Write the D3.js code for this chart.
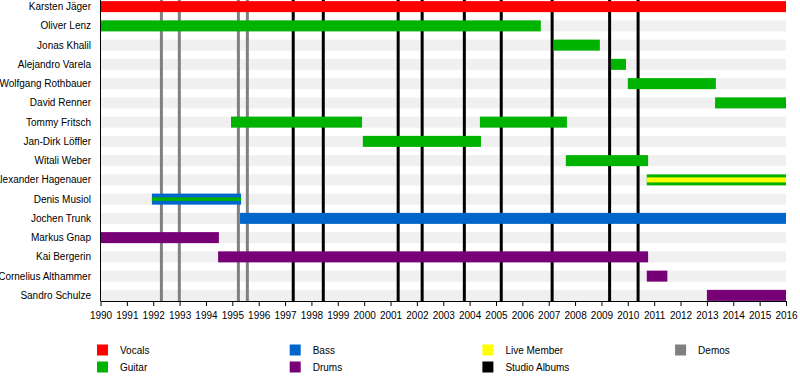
<!DOCTYPE html>
<html lang="en">
<head>
  <meta charset="utf-8">
  <script src="https://d3js.org/d3.v7.min.js"></script>
  <style>
    body { margin: 0; background: #fff; }
    text { font-family: "Liberation Sans", Arial, sans-serif; }
  </style>
</head>
<body>
  <script>
    // band members, top to bottom
    var members = ["Karsten Jäger", "Oliver Lenz", "Jonas Khalil", "Alejandro Varela",
      "Wolfgang Rothbauer", "David Renner", "Tommy Fritsch", "Jan-Dirk Löffler",
      "Witali Weber", "Alexander Hagenauer", "Denis Musiol", "Jochen Trunk",
      "Markus Gnap", "Kai Bergerin", "Cornelius Althammer", "Sandro Schulze"];

    // main periods: member, role, start, end
    var stints = [
      ["Karsten Jäger", "vocals", 1990, 2016],
      ["Oliver Lenz", "guitar", 1990, 2006.70],
      ["Jonas Khalil", "guitar", 2007.20, 2008.94],
      ["Alejandro Varela", "guitar", 2009.36, 2009.93],
      ["Wolfgang Rothbauer", "guitar", 2010.00, 2013.34],
      ["David Renner", "guitar", 2013.31, 2016],
      ["Tommy Fritsch", "guitar", 1994.95, 1999.92],
      ["Tommy Fritsch", "guitar", 2004.39, 2007.69],
      ["Jan-Dirk Löffler", "guitar", 1999.95, 2004.43],
      ["Witali Weber", "guitar", 2007.65, 2010.77],
      ["Alexander Hagenauer", "guitar", 2010.72, 2016],
      ["Denis Musiol", "bass", 1991.95, 1995.33],
      ["Jochen Trunk", "bass", 1995.29, 2016],
      ["Markus Gnap", "drums", 1990, 1994.49],
      ["Kai Bergerin", "drums", 1994.46, 2010.77],
      ["Cornelius Althammer", "drums", 2010.72, 2011.50],
      ["Sandro Schulze", "drums", 2013.00, 2016]
    ];

    // thin overlays on top of main periods
    var overlays = [
      ["Alexander Hagenauer", "live", 2010.72, 2016],
      ["Denis Musiol", "guitar", 1991.95, 1995.33]
    ];

    var demos = [1992.31, 1992.99, 1995.23, 1995.57];
    var albums = [1997.31, 1998.45, 2001.29, 2002.20, 2003.80, 2005.20, 2007.13, 2009.31, 2010.39];

    var years = [1990, 1991, 1992, 1993, 1994, 1995, 1996, 1997, 1998, 1999, 2000,
      2001, 2002, 2003, 2004, 2005, 2006, 2007, 2008, 2009, 2010, 2011, 2012,
      2013, 2014, 2015, 2016];

    var legendKeys = ["vocals", "guitar", "bass", "drums", "live", "albums", "demos"];
    var legendLabels = ["Vocals", "Guitar", "Bass", "Drums", "Live Member", "Studio Albums", "Demos"];

    var colors = {
      vocals: "#ff0000",
      guitar: "#00b300",
      bass: "#0066cc",
      drums: "#770077",
      live: "#ffff00",
      albums: "#000000",
      demos: "#808080"
    };

    var dim = {
      width: 800,
      height: 390,
      left: 100.5,
      right: 786,
      axisY: 301,
      barH: 11
    };

    var svg = d3.select("body")
      .append("svg")
      .attr("width", dim.width)
      .attr("height", dim.height);

    var x = d3.scaleLinear()
      .domain([1990, 2016])
      .range([dim.left, dim.right]);

    var y = d3.scaleBand()
      .domain(members)
      .range([-3, 305]);

    function rowY(name, h) {
      return y(name) + y.bandwidth() / 2 - h / 2;
    }

    // light background bar for every member
    svg.append("g")
      .selectAll("rect")
      .data(members)
      .join("rect")
      .attr("x", x(1990))
      .attr("width", x(2016) - x(1990))
      .attr("y", d => rowY(d, dim.barH))
      .attr("height", dim.barH)
      .attr("fill", "#f0f0f0");

    // demo and album markers
    var markers = demos.map(d => ["demos", d]).concat(albums.map(d => ["albums", d]));
    svg.append("g")
      .selectAll("line")
      .data(markers)
      .join("line")
      .attr("x1", d => x(d[1]))
      .attr("x2", d => x(d[1]))
      .attr("y1", 0)
      .attr("y2", dim.axisY)
      .attr("stroke", d => colors[d[0]])
      .attr("stroke-width", 3);

    // member bars
    svg.append("g")
      .selectAll("rect")
      .data(stints)
      .join("rect")
      .attr("x", d => x(d[2]))
      .attr("width", d => x(d[3]) - x(d[2]))
      .attr("y", d => rowY(d[0], dim.barH))
      .attr("height", dim.barH)
      .attr("fill", d => colors[d[1]]);

    svg.append("g")
      .selectAll("rect")
      .data(overlays)
      .join("rect")
      .attr("x", d => x(d[2]))
      .attr("width", d => x(d[3]) - x(d[2]))
      .attr("y", d => rowY(d[0], d[1] === "live" ? 5 : 3.5))
      .attr("height", d => d[1] === "live" ? 5 : 3.5)
      .attr("fill", d => colors[d[1]]);

    // member names
    svg.append("g")
      .selectAll("text")
      .data(members)
      .join("text")
      .attr("x", 91)
      .attr("y", d => y(d) + y.bandwidth() / 2)
      .attr("dy", "0.35em")
      .attr("text-anchor", "end")
      .style("font-size", "10px")
      .attr("fill", "#000")
      .text(d => d);

    // x axis
    var xAxis = d3.axisBottom(x)
      .tickValues(years)
      .tickFormat(d3.format("d"))
      .tickSize(5)
      .tickSizeOuter(0)
      .tickPadding(6);

    svg.append("g")
      .attr("transform", "translate(0," + dim.axisY + ")")
      .call(xAxis)
      .call(g => g.selectAll("text").style("font-size", "10px").attr("fill", "#000")
        .style("font-family", "'Liberation Sans', Arial, sans-serif"))
      .call(g => g.selectAll("line, path").attr("stroke", "#000"));

    // left edge line
    svg.append("line")
      .attr("x1", dim.left)
      .attr("x2", dim.left)
      .attr("y1", 0)
      .attr("y2", dim.axisY)
      .attr("stroke", "#000");

    // legend
    var legend = svg.append("g")
      .selectAll("g")
      .data(legendKeys)
      .join("g")
      .attr("transform", function(d, i) {
        var col = Math.floor(i / 2);
        var row = i % 2;
        return "translate(" + (97 + col * 192.7) + "," + (344.5 + row * 17) + ")";
      });

    legend.append("rect")
      .attr("width", 11)
      .attr("height", 11)
      .attr("fill", d => colors[d]);

    legend.append("text")
      .attr("x", 23)
      .attr("y", 5.5)
      .attr("dy", "0.35em")
      .style("font-size", "10px")
      .attr("fill", "#000")
      .text((d, i) => legendLabels[i]);
  </script>
</body>
</html>
